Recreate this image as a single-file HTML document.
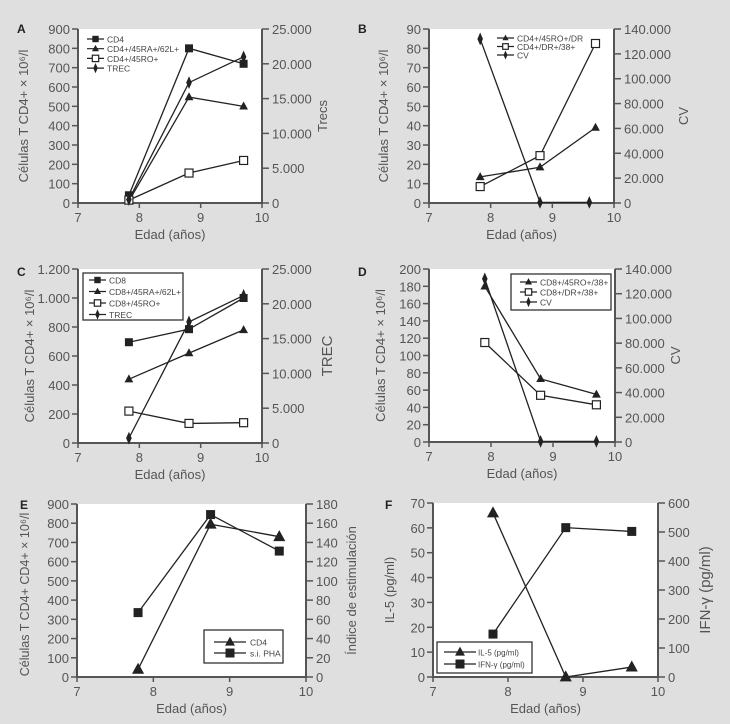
<!DOCTYPE html>
<html><head><meta charset="utf-8"><style>
body{margin:0;background:#dfdfdf;}
svg{display:block;font-family:"Liberation Sans",sans-serif;}
</style></head><body>
<svg id="fig" width="730" height="724" viewBox="0 0 730 724" xmlns="http://www.w3.org/2000/svg">
<rect x="0" y="0" width="730" height="724" fill="#dfdfdf"/>
</svg>
<script>
// ---- Panel A ----
const aX = [7.83, 8.81, 9.7];
const aCD4 = [40, 800, 720];
const aRA = [10, 548, 500];
const aRO = [15, 155, 220];
const aTREC = [500, 17300, 21000];
// ---- Panel B ----
const bX = [7.83, 8.8, 9.7];
const bXcv = [7.83, 8.8, 9.6];
const bRODR = [13.5, 18.5, 39];
const bDR38 = [8.5, 24.5, 82.5];
const bCV = [132000, 500, 500];
// ---- Panel C ----
const cX = [7.83, 8.81, 9.7];
const cCD8 = [695, 785, 1000];
const cRA = [440, 620, 780];
const cRO = [220, 135, 140];
const cTREC = [700, 17400, 21200];
// ---- Panel D ----
const dX = [7.9, 8.8, 9.7];
const dRO38 = [180, 73, 55];
const dDR38 = [115, 54, 43];
const dCV = [132000, 500, 500];
// ---- Panel E ----
const eX = [7.8, 8.75, 9.65];
const eCD4 = [40, 795, 730];
const ePHA = [67, 169, 131];
// ---- Panel F ----
const fX = [7.8, 8.77, 9.65];
const fIL5 = [66, 0, 4];
const fIFN = [148, 515, 502];
// ticks
const xTicks = ['7','8','9','10'];
const aLeftTicks = ['0','100','200','300','400','500','600','700','800','900'];
const aRightTicks = ['0','5.000','10.000','15.000','20.000','25.000'];
const bLeftTicks = ['0','10','20','30','40','50','60','70','80','90'];
const cvTicks = ['0','20.000','40.000','60.000','80.000','100.000','120.000','140.000'];
const cLeftTicks = ['0','200','400','600','800','1.000','1.200'];
const dLeftTicks = ['0','20','40','60','80','100','120','140','160','180','200'];
const eRightTicks = ['0','20','40','60','80','100','120','140','160','180'];
const fLeftTicks = ['0','10','20','30','40','50','60','70'];
const fRightTicks = ['0','100','200','300','400','500','600'];

const NS='http://www.w3.org/2000/svg';
const svg=document.getElementById('fig');
function mk(tag,attrs,parent,txt){const e=document.createElementNS(NS,tag);for(const k in attrs)e.setAttribute(k,attrs[k]);if(txt!==undefined)e.textContent=txt;(parent||svg).appendChild(e);return e;}
const AX='#555', TX='#555';

function panel(p){
  const g=mk('g',{});
  
  
  const {l,r,t,b}=p;
  const bg=mk('rect',{x:l,y:t,width:r-l,height:b-t,fill:'#fff'},g);
  
  
  const sx=v=>l+(v-7)/3*(r-l);
  const syL=v=>b-v/p.lMax*(b-t);
  const syR=v=>b-v/p.rMax*(b-t);
  const frame=mk('path',{d:`M${l},${t}V${b}H${r}V${t}`,fill:'none',stroke:AX,'stroke-width':2},g);
  
  
  xTicks.forEach((s,i)=>{const x=sx(7+i);mk('line',{x1:x,y1:b,x2:x,y2:b+5,stroke:AX,'stroke-width':1.5},g);
    const tx=mk('text',{x:x,y:b+19,'font-size':13,fill:TX,'text-anchor':'middle'},g,s);
    
    });
  p.lTicks.forEach((s,i)=>{const y=b-i/(p.lTicks.length-1)*(b-t);mk('line',{x1:l-6,y1:y,x2:l,y2:y,stroke:AX,'stroke-width':1.5},g);
    const tx=mk('text',{x:l-8,y:y+5,'font-size':13,fill:TX,'text-anchor':'end'},g,s);
    
    });
  p.rTicks.forEach((s,i)=>{const y=b-i/(p.rTicks.length-1)*(b-t);mk('line',{x1:r,y1:y,x2:r+7,y2:y,stroke:AX,'stroke-width':1.5},g);
    const tx=mk('text',{x:r+10,y:y+5,'font-size':13,fill:TX},g,s);
    
    });
  const xt=mk('text',{x:(l+r)/2,y:b+36,'font-size':13,fill:TX,'text-anchor':'middle'},g,'Edad (años)');
  
  
  const lt=mk('text',{x:0,y:0,'font-size':p.lfs||13,fill:TX,'text-anchor':'middle',transform:`translate(${p.ltx},${(t+b)/2+(p.lty||0)}) rotate(-90)`},g,p.lTitle);
  
  
  const rt=mk('text',{x:0,y:0,'font-size':p.rfs||13,fill:TX,'text-anchor':'middle',transform:`translate(${p.rtx},${(t+b)/2}) rotate(-90)`},g,p.rTitle);
  
  
  const pl=mk('text',{x:p.lx,y:p.ly,'font-size':12,'font-weight':'bold',fill:'#222'},g,p.id);
  
  
  p.series.forEach(s=>{
    const ys=s.axis==='r'?syR:syL;
    const pts=s.x.map((xv,i)=>[sx(xv),ys(s.y[i])]);
    const ln=mk('polyline',{points:pts.map(q=>q.join(',')).join(' '),fill:'none',stroke:'#222','stroke-width':1.3},g);
    
    
    pts.forEach(q=>{const m=marker(s.m,q[0],q[1],s.ms||4,g);
      
      });
  });
  const lg=p.leg;
  if(lg.box){const bx=mk('rect',{x:lg.box[0],y:lg.box[1],width:lg.box[2],height:lg.box[3],fill:'#fff',stroke:'#333','stroke-width':1.3},g);
    
    }
  p.series.forEach((s,i)=>{const y=lg.y0+i*lg.dy;
    const eg=mk('g',{},g);
    
    
    mk('line',{x1:lg.x1,y1:y,x2:lg.x2,y2:y,stroke:'#222','stroke-width':1.2},eg);
    marker(s.m,(lg.x1+lg.x2)/2,y,lg.ms||3.2,eg);
    mk('text',{x:lg.tx,y:y+3.5,'font-size':lg.fs,fill:'#444'},eg,s.name);});
}
function marker(type,x,y,s,g){
  if(type==='sq')return mk('rect',{x:x-s,y:y-s,width:2*s,height:2*s,fill:'#222'},g);
  if(type==='osq')return mk('rect',{x:x-s,y:y-s,width:2*s,height:2*s,fill:'#fff',stroke:'#222','stroke-width':1.2},g);
  if(type==='tri')return mk('path',{d:`M${x},${y-s*1.2}L${x+s*1.1},${y+s*0.8}L${x-s*1.1},${y+s*0.8}Z`,fill:'#222'},g);
  return mk('path',{d:`M${x},${y-s*1.6}L${x+s*0.7},${y}L${x},${y+s*1.6}L${x-s*0.7},${y}Z`,fill:'#222'},g);
}

panel({id:'A',l:78,r:262,t:29,b:203,lMax:900,rMax:25000,lTicks:aLeftTicks,rTicks:aRightTicks,
  ltx:28,rtx:327,lTitle:'Células T  CD4+ × 10⁶/l',rTitle:'Trecs',lx:17,ly:33,
  leg:{x1:87,x2:104,tx:107,y0:39,dy:9.7,fs:8.5},
  series:[{key:'cd4',name:'CD4',x:aX,y:aCD4,m:'sq'},{key:'ra',name:'CD4+/45RA+/62L+',x:aX,y:aRA,m:'tri'},
    {key:'ro',name:'CD4+/45RO+',x:aX,y:aRO,m:'osq'},{key:'trec',name:'TREC',x:aX,y:aTREC,m:'dia',axis:'r'}]});
panel({id:'B',l:429,r:614,t:29,b:203,lMax:90,rMax:140000,lTicks:bLeftTicks,rTicks:cvTicks,
  ltx:388,rtx:688,lTitle:'Células T  CD4+ × 10⁶/l',rTitle:'CV',lx:358,ly:33,
  leg:{x1:497,x2:514,tx:517,y0:38,dy:8.5,fs:8.5,ms:2.8},
  series:[{key:'rodr',name:'CD4+/45RO+/DR',x:bX,y:bRODR,m:'tri'},{key:'dr38',name:'CD4+/DR+/38+',x:bX,y:bDR38,m:'osq'},
    {key:'cv',name:'CV',x:bXcv,y:bCV,m:'dia',axis:'r'}]});
panel({id:'C',l:78,r:262,t:269,b:443,lMax:1200,rMax:25000,lTicks:cLeftTicks,rTicks:aRightTicks,
  ltx:34,rtx:332,lTitle:'Células T CD4+ × 10⁶/l',rTitle:'TREC',rfs:15,lx:17,ly:276,
  leg:{box:[83,273,100,47],x1:89,x2:106,tx:109,y0:280,dy:11.5,fs:8.5},
  series:[{key:'cd8',name:'CD8',x:cX,y:cCD8,m:'sq'},{key:'ra',name:'CD8+/45RA+/62L+',x:cX,y:cRA,m:'tri'},
    {key:'ro',name:'CD8+/45RO+',x:cX,y:cRO,m:'osq'},{key:'trec',name:'TREC',x:cX,y:cTREC,m:'dia',axis:'r'}]});
panel({id:'D',l:429,r:615,t:269,b:442,lMax:200,rMax:140000,lTicks:dLeftTicks,rTicks:cvTicks,
  ltx:385,rtx:680,lTitle:'Células T  CD4+ × 10⁶/l',rTitle:'CV',lx:358,ly:276,
  leg:{box:[511,274,100,36],x1:520,x2:537,tx:540,y0:282,dy:10,fs:8.5},
  series:[{key:'ro38',name:'CD8+/45RO+/38+',x:dX,y:dRO38,m:'tri'},{key:'dr38',name:'CD8+/DR+/38+',x:dX,y:dDR38,m:'osq'},
    {key:'cv',name:'CV',x:dX,y:dCV,m:'dia',axis:'r'}]});
panel({id:'E',l:77,r:306,t:504,b:677,lMax:900,rMax:180,lTicks:aLeftTicks,rTicks:eRightTicks,
  ltx:29,lty:4,lfs:12.5,rtx:356,lTitle:'Células T CD4+ CD4+ × 10⁶/l',rTitle:'Índice de estimulación',lx:20,ly:509,
  leg:{box:[204,630,79,33],x1:214,x2:246,tx:250,y0:642,dy:11,fs:8.5,ms:4.5},
  series:[{key:'cd4',name:'CD4',x:eX,y:eCD4,m:'tri',ms:5.5},{key:'pha',name:'s.i. PHA',x:eX,y:ePHA,m:'sq',ms:4.5,axis:'r'}]});
panel({id:'F',l:433,r:658,t:503,b:677,lMax:70,rMax:600,lTicks:fLeftTicks,rTicks:fRightTicks,
  ltx:394,rtx:710,lTitle:'IL-5 (pg/ml)',rTitle:'IFN-γ (pg/ml)',rfs:15,lx:385,ly:509,
  leg:{box:[437,642,95,31],x1:444,x2:476,tx:478,y0:652,dy:12,fs:8,ms:4.5},
  series:[{key:'il5',name:'IL-5 (pg/ml)',x:fX,y:fIL5,m:'tri',ms:5.5},{key:'ifn',name:'IFN-γ (pg/ml)',x:fX,y:fIFN,m:'sq',ms:4.5,axis:'r'}]});
</script>
</body></html>
